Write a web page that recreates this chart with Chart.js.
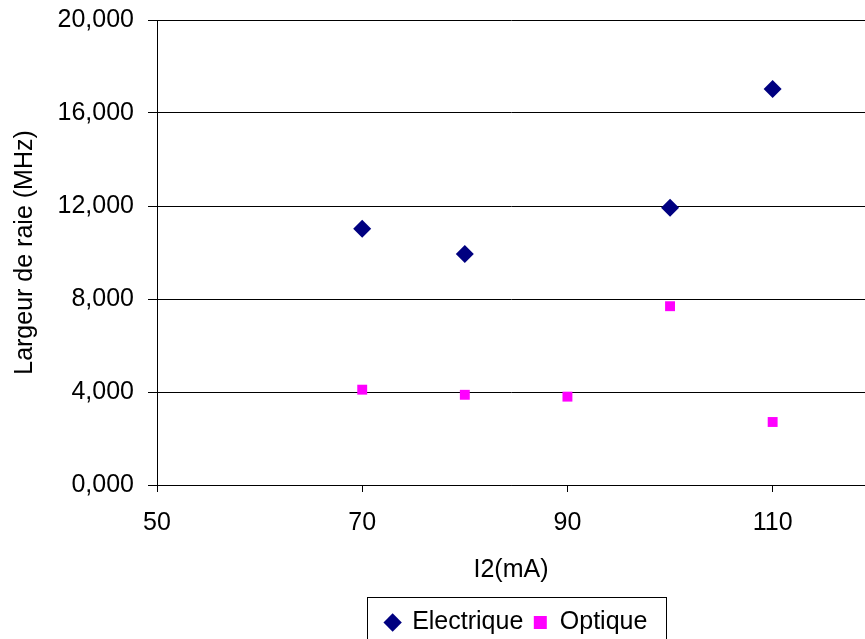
<!DOCTYPE html>
<html>
<head>
  <title>Largeur de raie</title>
  <script src="https://cdn.jsdelivr.net/npm/chart.js"></script>
  <style>
    body { margin: 0; background: #fff; overflow: hidden; }
    /* plot runs off the right edge in the original, so the canvas is a bit wider than the window */
    #wrap { width: 865px; height: 639px; overflow: hidden; }
  </style>
</head>
<body>
<div id="wrap">
  <canvas id="raieChart" width="874" height="639"></canvas>
</div>
<script>
  // data (I2 in mA, width in MHz)
  const elecX = [70, 80, 100, 110];
  const elecY = [11.02, 9.94, 11.93, 17.03];
  const optX = [70, 80, 90, 100, 110];
  const optY = [4.10, 3.88, 3.80, 7.69, 2.71];
  const xTicks = [50, 70, 90, 110];
  const yTicks = [0, 4, 8, 12, 16, 20];

  const FONT = "'Liberation Sans', Arial, sans-serif";

  // frame around the legend + put the legend where Excel had it
  const legendBox = {
    id: 'legendBox',
    beforeDraw(chart) {
      const lg = chart.legend;
      const h = lg.bottom - lg.top;
      lg.left = 367; lg.right = 666;
      lg.top = 639 - h + 6; lg.bottom = lg.top + h;
    },
    afterDraw(chart) {
      const ctx = chart.ctx;
      ctx.save();
      ctx.strokeStyle = '#000';
      ctx.lineWidth = 1;
      ctx.strokeRect(367.5, 597.5, 299, 50);
      ctx.restore();
    }
  };

  new Chart(document.getElementById('raieChart'), {
    type: 'scatter',
    data: {
      datasets: [
        {
          label: 'Electrique',
          data: elecX.map((x, i) => ({ x, y: elecY[i] })),
          pointStyle: 'rectRot',
          pointRadius: 9,
          backgroundColor: '#000080',
          borderColor: '#000080',
          borderWidth: 0
        },
        {
          label: 'Optique',
          data: optX.map((x, i) => ({ x, y: optY[i] })),
          pointStyle: 'rect',
          pointRadius: 7,
          backgroundColor: '#ff00ff',
          borderColor: '#ff00ff',
          borderWidth: 0
        }
      ]
    },
    options: {
      responsive: false,
      animation: false,
      layout: { padding: { top: 20, right: 0, left: 0, bottom: 0 } },
      plugins: {
        tooltip: { enabled: false },
        legend: {
          position: 'bottom',
          labels: {
            usePointStyle: true,
            boxHeight: 13,
            boxWidth: 14,
            padding: 10,
            color: '#000',
            font: { family: FONT, size: 25 }
          }
        }
      },
      scales: {
        x: {
          type: 'linear',
          min: 50,
          max: 119,
          afterBuildTicks: s => { s.ticks = xTicks.map(v => ({ value: v })); },
          afterFit: s => {
            s.height = 639 - 485 - s.chart.legend.height;
            s.paddingLeft = 0; s.paddingRight = 0;
          },
          grid: { drawOnChartArea: false, drawTicks: true, tickLength: 7, color: '#000' },
          border: { color: '#000', width: 1 },
          ticks: { color: '#000', padding: 16, maxRotation: 0, font: { family: FONT, size: 25 } },
          title: {
            display: true,
            text: 'I2(mA)',
            color: '#000',
            padding: { top: 0, bottom: 9 },
            font: { family: FONT, size: 25 }
          }
        },
        y: {
          min: 0,
          max: 20,
          afterBuildTicks: s => { s.ticks = yTicks.map(v => ({ value: v })); },
          afterFit: s => {
            s.width = 157;
            s.paddingTop = 0; s.paddingBottom = 0;
          },
          grid: { color: '#000', tickLength: 9 },
          border: { color: '#000', width: 1 },
          ticks: {
            color: '#000',
            padding: 14,
            font: { family: FONT, size: 25 },
            callback: v => v.toFixed(3).replace('.', ',')
          },
          title: {
            display: true,
            text: 'Largeur de raie (MHz)',
            color: '#000',
            padding: { top: 10, bottom: 0 },
            font: { family: FONT, size: 25 }
          }
        }
      }
    },
    plugins: [legendBox]
  });
</script>
</body>
</html>
